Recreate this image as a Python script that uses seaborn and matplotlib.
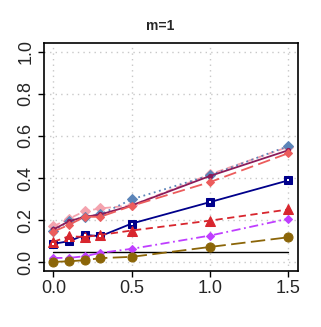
import numpy as np
import pandas as pd
import matplotlib
matplotlib.use("Agg")
import matplotlib.pyplot as plt
import seaborn as sns

x = [0.0, 0.1, 0.2, 0.3, 0.5, 1.0, 1.5]
navy_sq = [0.088, 0.100, 0.130, 0.124, 0.184, 0.286, 0.389]
red_tri = [0.097, 0.124, 0.120, 0.130, 0.151, 0.198, 0.251]
purple_dm = [0.021, 0.021, 0.029, 0.045, 0.064, 0.127, 0.207]
olive_ci = [0.002, 0.005, 0.010, 0.020, 0.026, 0.073, 0.119]
steel_dm = [0.150, 0.195, 0.216, 0.227, 0.299, 0.413, 0.552]
pink_dm = [0.171, 0.207, 0.243, 0.256, 0.270, 0.418, 0.548]
maroon = [0.156, 0.195, 0.216, 0.227, 0.270, 0.410, 0.532]
salmon_dm = [0.146, 0.178, 0.216, 0.216, 0.268, 0.381, 0.518]
ref_level = 0.05
xticks = [0.0, 0.5, 1.0, 1.5]
yticks = [0.0, 0.2, 0.4, 0.6, 0.8, 1.0]
title = "m=1"

sns.set_style("white")
plt.rcParams['font.family'] = ['Liberation Sans', 'DejaVu Sans']

fig = plt.figure(figsize=(3.21, 3.27), dpi=100)
ax = fig.add_axes([0.137, 0.172, 0.791, 0.696])

series = [
    (pink_dm, "#F4A3AE", (0, (4, 2)), "D", 5),
    (steel_dm, "#5B84B8", (0, (1, 2)), "D", 5),
    (maroon, "#8B1C5A", "-", "o", 3),
    (salmon_dm, "#EC5C5C", (0, (7, 3)), "D", 4.5),
    (navy_sq, "#00008B", "-", "s", 5.5),
    (red_tri, "#D8262E", (0, (4, 2.5)), "^", 7),
    (purple_dm, "#BF3EFF", (0, (5, 2, 1, 2)), "D", 4.5),
    (olive_ci, "#8B6508", (0, (8, 3)), "o", 6.5),
]
for ys, col, ls, mk, ms in series:
    df = pd.DataFrame({"x": x, "y": ys})
    sns.lineplot(data=df, x="x", y="y", ax=ax, color=col, linestyle=ls,
                 marker=mk, markersize=ms, markeredgecolor=col,
                 linewidth=1.3, zorder=3)

# tiny white centre dots in the navy squares
sns.scatterplot(x=x, y=navy_sq, ax=ax, color="white", s=1.2, marker="s",
                linewidth=0, zorder=5, legend=False)

ax.axhline(ref_level, color="black", linewidth=1.0, xmin=0.037, xmax=0.963, zorder=2)

ax.set_xlim(-0.06, 1.56)
ax.set_ylim(-0.04, 1.04)
ax.set_xticks(xticks)
ax.set_yticks(yticks)
ax.set_xticklabels([f"{t:.1f}" for t in xticks], fontsize=13)
ax.set_yticklabels([f"{t:.1f}" for t in yticks], fontsize=13, rotation=90, va="center")
ax.grid(True, color="#C8C8C8", linestyle=(0, (1, 3)), linewidth=1.0)
ax.tick_params(axis="both", direction="out", length=4, width=1, color="black", pad=3,
               bottom=True, left=True)
for s in ax.spines.values():
    s.set_color("black")
    s.set_linewidth(1.2)
ax.set_xlabel("")
ax.set_ylabel("")
fig.text(0.5, 0.92, title, ha="center", va="center", fontsize=10, fontweight="bold")

fig.savefig("out.png", dpi=100)
